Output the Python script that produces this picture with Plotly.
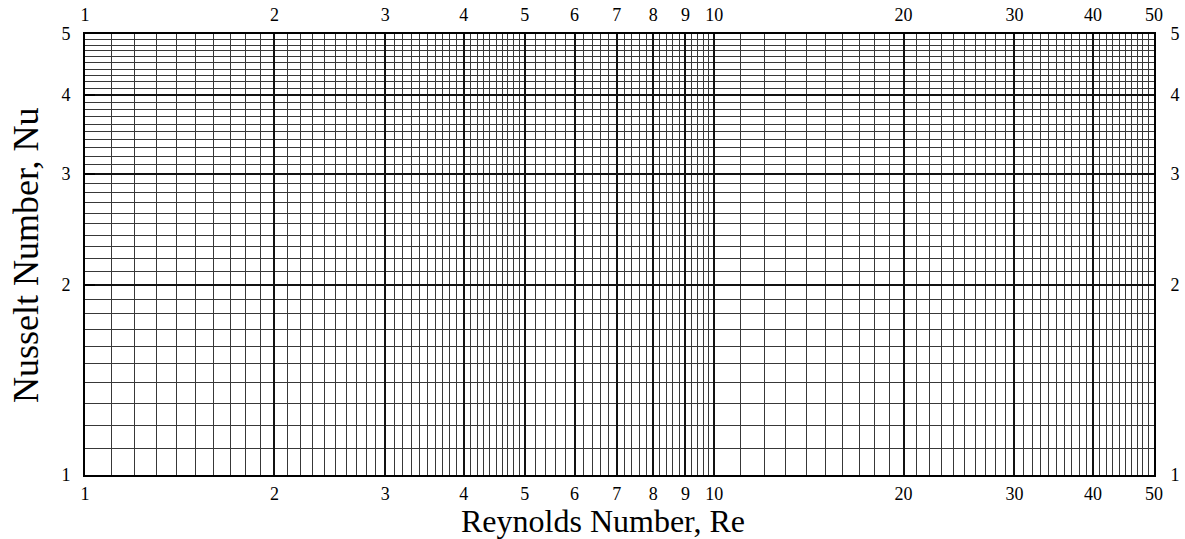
import numpy as np
import plotly.graph_objects as go

# Axis tick labels (major decades / integers)
x_major = [1, 2, 3, 4, 5, 6, 7, 8, 9, 10, 20, 30, 40, 50]
y_major = [1, 2, 3, 4, 5]

# Graph-paper minor ruling: (start, stop, step)
x_minor_segments = [(1, 5, 0.1), (5, 10, 0.2), (10, 50, 1)]
y_minor_segments = [(1, 5, 0.1)]

x_title = "Reynolds Number, Re"
y_title = "Nusselt Number, Nu"


def ruling(segments, majors):
    vals = []
    for a, b, s in segments:
        n = int(round((b - a) / s))
        for i in range(n + 1):
            v = round(a + i * s, 4)
            if v not in majors and v not in vals:
                vals.append(v)
    return vals


x_minor = ruling(x_minor_segments, x_major)
y_minor = ruling(y_minor_segments, y_major)

FONT = "Liberation Serif"
W, H = 1185, 539
L, R, T, B = 85, 31, 34, 64
xr = [np.log10(min(x_major)), np.log10(max(x_major))]
yr = [np.log10(min(y_major)), np.log10(max(y_major))]

fig = go.Figure()
fig.add_trace(go.Scatter(x=[1, 50], y=[1, 5], mode="markers",
                         marker=dict(opacity=0), hoverinfo="skip",
                         showlegend=False))
fig.add_trace(go.Scatter(x=[1, 50], y=[1, 5], mode="markers",
                         marker=dict(opacity=0), hoverinfo="skip",
                         showlegend=False, xaxis="x2", yaxis="y2"))

tickfont = dict(family=FONT, size=18, color="black")
common_x = dict(type="log", range=xr, tickmode="array",
                tickvals=x_major, ticktext=[str(v) for v in x_major],
                tickfont=tickfont, automargin=False,
                ticks="", showline=True, linecolor="black", linewidth=2,
                zeroline=False)
common_y = dict(type="log", range=yr, tickmode="array",
                tickvals=y_major, ticktext=[str(v) for v in y_major],
                tickfont=tickfont, automargin=False,
                showline=True, linecolor="black", linewidth=2,
                zeroline=False)

fig.update_layout(
    width=W, height=H,
    margin=dict(l=L, r=R, t=T, b=B),
    paper_bgcolor="white", plot_bgcolor="white",
    font=dict(family=FONT, color="black"),
    xaxis=dict(**common_x, side="bottom", mirror=True, ticklabelstandoff=1,
               showgrid=True, gridcolor="#111111", gridwidth=1.6,
               minor=dict(tickmode="array", tickvals=x_minor, showgrid=True,
                          gridcolor="#383838", gridwidth=1, ticks="")),
    yaxis=dict(**common_y, side="left", mirror=True,
               ticks="inside", ticklen=10, tickwidth=2, tickcolor="black",
               ticklabelstandoff=9,
               showgrid=True, gridcolor="#111111", gridwidth=1.6,
               minor=dict(tickmode="array", tickvals=y_minor, showgrid=True,
                          gridcolor="#383838", gridwidth=1, ticks="")),
    xaxis2=dict(**common_x, overlaying="x", side="top", showgrid=False,
                anchor="y2", ticklabelstandoff=4),
    yaxis2=dict(**common_y, overlaying="y", side="right", showgrid=False,
                ticks="", anchor="x2", ticklabelstandoff=11),
    annotations=[
        dict(text=x_title, xref="paper", yref="paper",
             x=(603 - L) / (W - L - R), y=-(521 - (H - B)) / (H - T - B),
             xanchor="center", yanchor="middle", showarrow=False,
             font=dict(family=FONT, size=32, color="black")),
        dict(text=y_title, xref="paper", yref="paper", textangle=-90,
             x=-(L - 26) / (W - L - R), y=1 - (255 - T) / (H - T - B),
             xanchor="center", yanchor="middle", showarrow=False,
             font=dict(family=FONT, size=36, color="black")),
    ],
)

fig.write_html("out.html", config={"displayModeBar": False},
               post_script="document.body.style.margin='0';")
